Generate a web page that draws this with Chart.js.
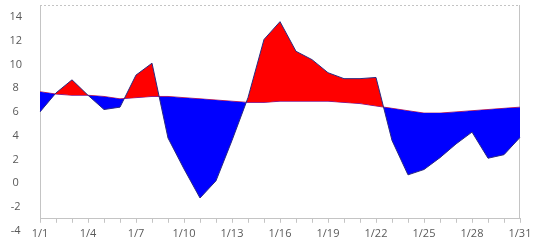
<!DOCTYPE html>
<html>
<head>
<meta charset="utf-8">
<script src="https://cdn.jsdelivr.net/npm/chart.js@4/dist/chart.umd.min.js"></script>
<style>
  html, body { margin: 0; padding: 0; background: #fff; }
  #wrap { width: 541px; height: 244px; }
</style>
</head>
<body>
<div id="wrap"><canvas id="chart"></canvas></div>
<script>
// data
const days = ['1/1','1/2','1/3','1/4','1/5','1/6','1/7','1/8','1/9','1/10','1/11','1/12','1/13','1/14','1/15','1/16',
              '1/17','1/18','1/19','1/20','1/21','1/22','1/23','1/24','1/25','1/26','1/27','1/28','1/29','1/30','1/31'];
const actual = [6.0, 7.6, 8.7, 7.4, 6.2, 6.4, 9.1, 10.1, 3.8, 1.2, -1.25, 0.2, 3.6, 7.2, 12.1, 13.6,
                11.1, 10.4, 9.3, 8.8, 8.8, 8.9, 3.6, 0.7, 1.15, 2.15, 3.3, 4.3, 2.1, 2.4, 3.85];
const baseline = [7.7, 7.5, 7.4, 7.4, 7.3, 7.1, 7.2, 7.3, 7.3, 7.2, 7.1, 7.0, 6.9, 6.8, 6.8, 6.9,
                  6.9, 6.9, 6.9, 6.8, 6.7, 6.5, 6.3, 6.1, 5.9, 5.9, 6.0, 6.1, 6.2, 6.3, 6.4];
const yTicks = [-4, -2, 0, 2, 4, 6, 8, 10, 12, 14];

const axisGray = '#c4c4c4';
const textGray = '#595959';

// light frame on top and right of the plot
const plotFrame = {
    id: 'plotFrame',
    beforeDatasetsDraw(chart) {
        const { ctx, chartArea: a } = chart;
        ctx.save();
        ctx.strokeStyle = axisGray;
        ctx.lineWidth = 1;
        ctx.setLineDash([2, 2]);
        ctx.beginPath();
        ctx.moveTo(a.left, a.top + 0.5);
        ctx.lineTo(a.right, a.top + 0.5);
        ctx.stroke();
        ctx.setLineDash([]);
        ctx.beginPath();
        ctx.moveTo(a.right - 0.5, a.top);
        ctx.lineTo(a.right - 0.5, a.bottom);
        ctx.stroke();
        ctx.restore();
    }
};

new Chart(document.getElementById('chart'), {
    type: 'line',
    data: {
        labels: days,
        datasets: [
            {
                data: actual,
                borderColor: '#2a2a80',
                borderWidth: 1,
                pointRadius: 0,
                tension: 0,
                fill: { target: 1, above: 'rgb(255,0,0)', below: 'rgb(0,0,255)' }
            },
            {
                data: baseline,
                borderColor: '#b03070',
                borderWidth: 1,
                pointRadius: 0,
                tension: 0,
                fill: false
            }
        ]
    },
    options: {
        responsive: true,
        maintainAspectRatio: false,
        animation: false,
        layout: { padding: { left: 0, right: 21, top: 5, bottom: 0 } },
        plugins: { legend: { display: false }, tooltip: { enabled: false } },
        scales: {
            x: {
                offset: false,
                grid: { drawOnChartArea: false, color: axisGray, tickLength: 4 },
                border: { color: axisGray },
                ticks: {
                    autoSkip: false,
                    maxRotation: 0,
                    padding: 4,
                    color: textGray,
                    font: { family: 'Open Sans', size: 11 },
                    callback: (v, i) => (i % 3 === 0 ? days[i] : '')
                }
            },
            y: {
                min: -3,
                max: 15,
                // the -4 label sits below the axis line, as in the original
                afterBuildTicks: (scale) => { scale.ticks = yTicks.map(v => ({ value: v })); },
                afterFit: (scale) => { scale.width = 40; scale.paddingTop = 0; scale.paddingBottom = 0; },
                grid: { display: false },
                border: { color: axisGray },
                ticks: {
                    crossAlign: 'center',
                    padding: 10,
                    color: textGray,
                    font: { family: 'Open Sans', size: 11 }
                }
            }
        }
    },
    plugins: [plotFrame]
});
</script>
</body>
</html>
